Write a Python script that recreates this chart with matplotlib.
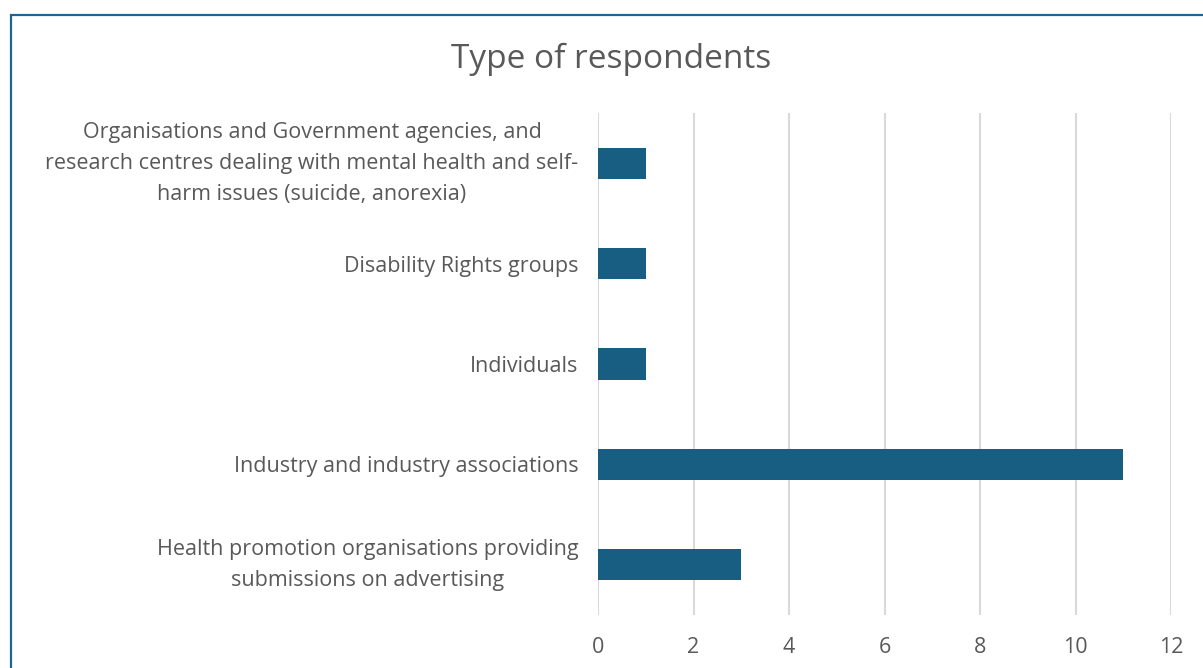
import matplotlib
matplotlib.use("Agg")
import matplotlib.pyplot as plt
from matplotlib.patches import Rectangle

categories = [
    "Health promotion organisations providing\nsubmissions on advertising",
    "Industry and industry associations",
    "Individuals",
    "Disability Rights groups",
    "Organisations and Government agencies, and\nresearch centres dealing with mental health and self-\nharm issues (suicide, anorexia)",
]
values = [3, 11, 1, 1, 1]
xticks = [0, 2, 4, 6, 8, 10, 12]
title = "Type of respondents"

bar_color = "#175E82"
text_color = "#595959"
grid_color = "#D9D9D9"

plt.rcParams['font.family'] = ['Open Sans', 'DejaVu Sans']

fig = plt.figure(figsize=(12.03, 6.68), dpi=100)
ax = fig.add_axes([598/1203, 1 - 615/668, (1171 - 598)/1203, (615 - 113)/668])

ypos = list(range(len(categories)))
ax.barh(ypos, values, height=0.31, color=bar_color, zorder=3)
ax.set_ylim(-0.5, len(categories) - 0.5)
ax.set_xlim(0, 12)
ax.set_xticks(xticks)
ax.set_xticklabels([str(t) for t in xticks])
ax.set_yticks(ypos)
ax.set_yticklabels(categories, multialignment='center', linespacing=1.62)
for lbl in ax.get_yticklabels():
    if "\n" in lbl.get_text():
        lbl.set_va('center')
ax.tick_params(axis='x', length=0, pad=16, labelsize=15.5, labelcolor=text_color)
ax.tick_params(axis='y', length=0, pad=14, labelsize=15.5, labelcolor=text_color)
ax.grid(axis='x', color=grid_color, linewidth=1.5, zorder=0)
for s in ax.spines.values():
    s.set_visible(False)

fig.text(611/1203, 1 - 59/668, title, ha='center', va='center', fontsize=24, color=text_color)

border = Rectangle((10.5/1203, -0.1), 1.2, 1 - 15.5/668 + 0.1, transform=fig.transFigure,
                   fill=False, edgecolor="#1B6590", linewidth=1.6, clip_on=False)
fig.patches.append(border)

fig.savefig("out.png", dpi=100)
